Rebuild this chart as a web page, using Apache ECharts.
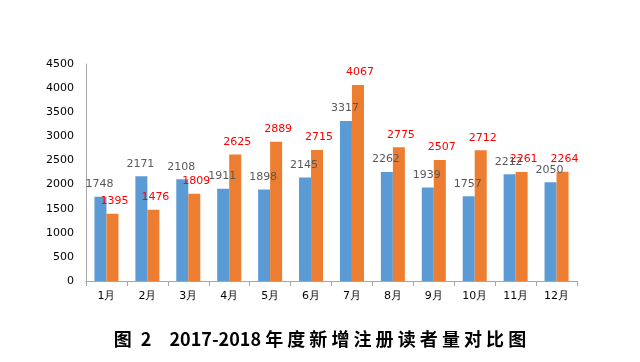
<!DOCTYPE html>
<html><head><meta charset="utf-8">
<script src="https://cdn.jsdelivr.net/npm/echarts@6/dist/echarts.min.js"></script>
<style>html,body{margin:0;padding:0;background:#fff}#c{width:640px;height:362px}</style>
</head><body><div id="c"></div>
<script>
var categories = ['1月','2月','3月','4月','5月','6月','7月','8月','9月','10月','11月','12月'];
var values2017 = [1748, 2171, 2108, 1911, 1898, 2145, 3317, 2262, 1939, 1757, 2212, 2050];
var values2018 = [1395, 1476, 1809, 2625, 2889, 2715, 4067, 2775, 2507, 2712, 2261, 2264];
var yTicks = [0, 500, 1000, 1500, 2000, 2500, 3000, 3500, 4000, 4500];
var titleText = '图\u20022\u30002017-2018 年 度 新 增 注 册 读 者 量 对 比 图';

var chart = echarts.init(document.getElementById('c'));
chart.setOption({
  animation: false,
  backgroundColor: '#fff',
  title: {
    text: titleText,
    left: 'center',
    top: 325,
    textStyle: {fontFamily: 'Noto Sans CJK SC', fontWeight: 'bold', fontSize: 18, color: '#000'}
  },
  grid: {left: 86, right: 63, top: 64, bottom: 81, containLabel: false},
  xAxis: {
    type: 'category',
    data: categories,
    axisLine: {lineStyle: {color: '#a6a6a6'}},
    axisTick: {show: true, length: 5, lineStyle: {color: '#a6a6a6'}},
    axisLabel: {color: '#000', fontSize: 11, fontFamily: 'DejaVu Sans', margin: 10}
  },
  yAxis: {
    type: 'value',
    min: yTicks[0],
    max: yTicks[yTicks.length - 1],
    interval: 500,
    axisLine: {show: true, lineStyle: {color: '#a6a6a6'}},
    axisTick: {show: false},
    splitLine: {show: false},
    axisLabel: {color: '#000', fontSize: 11, fontFamily: 'DejaVu Sans', margin: 12, formatter: function (v) { return String(v); }}
  },
  series: [
    {
      type: 'bar', data: values2017, barWidth: 12, barGap: '0%',
      itemStyle: {color: '#5b9bd5'},
      label: {show: true, position: 'top', distance: 7, color: '#595959', fontSize: 11, fontFamily: 'DejaVu Sans', offset: [-1, 0]}
    },
    {
      type: 'bar', data: values2018, barWidth: 12, barGap: '0%',
      itemStyle: {color: '#ed7d31'},
      label: {show: true, position: 'top', distance: 7, color: '#ff0000', fontSize: 11, fontFamily: 'DejaVu Sans', offset: [2, 0]}
    }
  ]
});
</script></body></html>
